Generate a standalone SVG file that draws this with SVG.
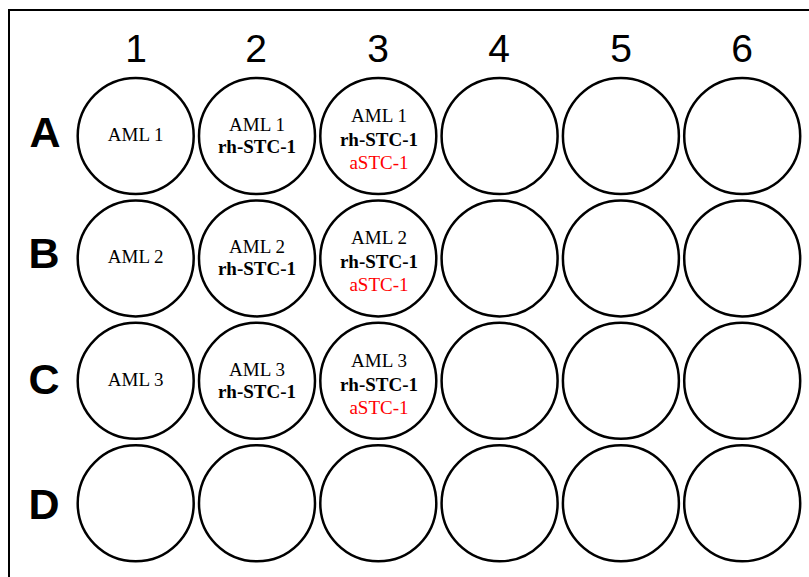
<svg xmlns="http://www.w3.org/2000/svg" width="809" height="577" viewBox="0 0 809 577">
<style>
.well{fill:#fff;stroke:#000;stroke-width:2.5}
.col{font-family:"Liberation Sans",Arial,sans-serif;font-size:39px;text-anchor:middle;fill:#000}
.row{font-family:"Liberation Sans",Arial,sans-serif;font-size:43px;font-weight:bold;text-anchor:middle;fill:#000}
.t{font-family:"Liberation Serif","Times New Roman",serif;font-size:19px;text-anchor:middle;fill:#000}
.b{font-weight:bold}
.r{fill:#ff0000}
</style>
<rect x="0" y="0" width="809" height="577" fill="#fff"/>
<rect id="plate" x="9" y="10" width="820" height="590" fill="none" stroke="#000" stroke-width="2"/>
<g id="col-labels">
<text class="col" x="136" y="62">1</text>
<text class="col" x="256" y="62">2</text>
<text class="col" x="378" y="62">3</text>
<text class="col" x="499" y="62">4</text>
<text class="col" x="621" y="62">5</text>
<text class="col" x="742" y="62">6</text>
</g>
<g id="row-labels">
<text class="row" x="45" y="147">A</text>
<text class="row" x="44" y="268">B</text>
<text class="row" x="44" y="394">C</text>
<text class="row" x="44" y="519">D</text>
</g>
<g id="connectors"/>
<g id="A1"><circle class="well" cx="135.7" cy="136" r="58"/><text class="t" x="135.7" y="141">AML 1</text></g>
<g id="A2"><circle class="well" cx="257" cy="136" r="58"/><text class="t" x="257" y="131">AML 1</text><text class="t b" x="257" y="153">rh-STC-1</text></g>
<g id="A3"><circle class="well" cx="378.3" cy="136" r="58"/><text class="t" x="379" y="122">AML 1</text><text class="t b" x="379" y="146">rh-STC-1</text><text class="t r" x="379" y="169">aSTC-1</text></g>
<g id="A4"><circle class="well" cx="499.6" cy="136" r="58"/></g>
<g id="A5"><circle class="well" cx="620.9" cy="136" r="58"/></g>
<g id="A6"><circle class="well" cx="742.2" cy="136" r="58"/></g>
<g id="B1"><circle class="well" cx="135.7" cy="258.4" r="58"/><text class="t" x="135.7" y="263.4">AML 2</text></g>
<g id="B2"><circle class="well" cx="257" cy="258.4" r="58"/><text class="t" x="257" y="253.4">AML 2</text><text class="t b" x="257" y="275.4">rh-STC-1</text></g>
<g id="B3"><circle class="well" cx="378.3" cy="258.4" r="58"/><text class="t" x="379" y="244.4">AML 2</text><text class="t b" x="379" y="268.4">rh-STC-1</text><text class="t r" x="379" y="291.4">aSTC-1</text></g>
<g id="B4"><circle class="well" cx="499.6" cy="258.4" r="58"/></g>
<g id="B5"><circle class="well" cx="620.9" cy="258.4" r="58"/></g>
<g id="B6"><circle class="well" cx="742.2" cy="258.4" r="58"/></g>
<g id="C1"><circle class="well" cx="135.7" cy="380.8" r="58"/><text class="t" x="135.7" y="385.8">AML 3</text></g>
<g id="C2"><circle class="well" cx="257" cy="380.8" r="58"/><text class="t" x="257" y="375.8">AML 3</text><text class="t b" x="257" y="397.8">rh-STC-1</text></g>
<g id="C3"><circle class="well" cx="378.3" cy="380.8" r="58"/><text class="t" x="379" y="366.8">AML 3</text><text class="t b" x="379" y="390.8">rh-STC-1</text><text class="t r" x="379" y="413.8">aSTC-1</text></g>
<g id="C4"><circle class="well" cx="499.6" cy="380.8" r="58"/></g>
<g id="C5"><circle class="well" cx="620.9" cy="380.8" r="58"/></g>
<g id="C6"><circle class="well" cx="742.2" cy="380.8" r="58"/></g>
<g id="D1"><circle class="well" cx="135.7" cy="503.3" r="58"/></g>
<g id="D2"><circle class="well" cx="257" cy="503.3" r="58"/></g>
<g id="D3"><circle class="well" cx="378.3" cy="503.3" r="58"/></g>
<g id="D4"><circle class="well" cx="499.6" cy="503.3" r="58"/></g>
<g id="D5"><circle class="well" cx="620.9" cy="503.3" r="58"/></g>
<g id="D6"><circle class="well" cx="742.2" cy="503.3" r="58"/></g>
</svg>
